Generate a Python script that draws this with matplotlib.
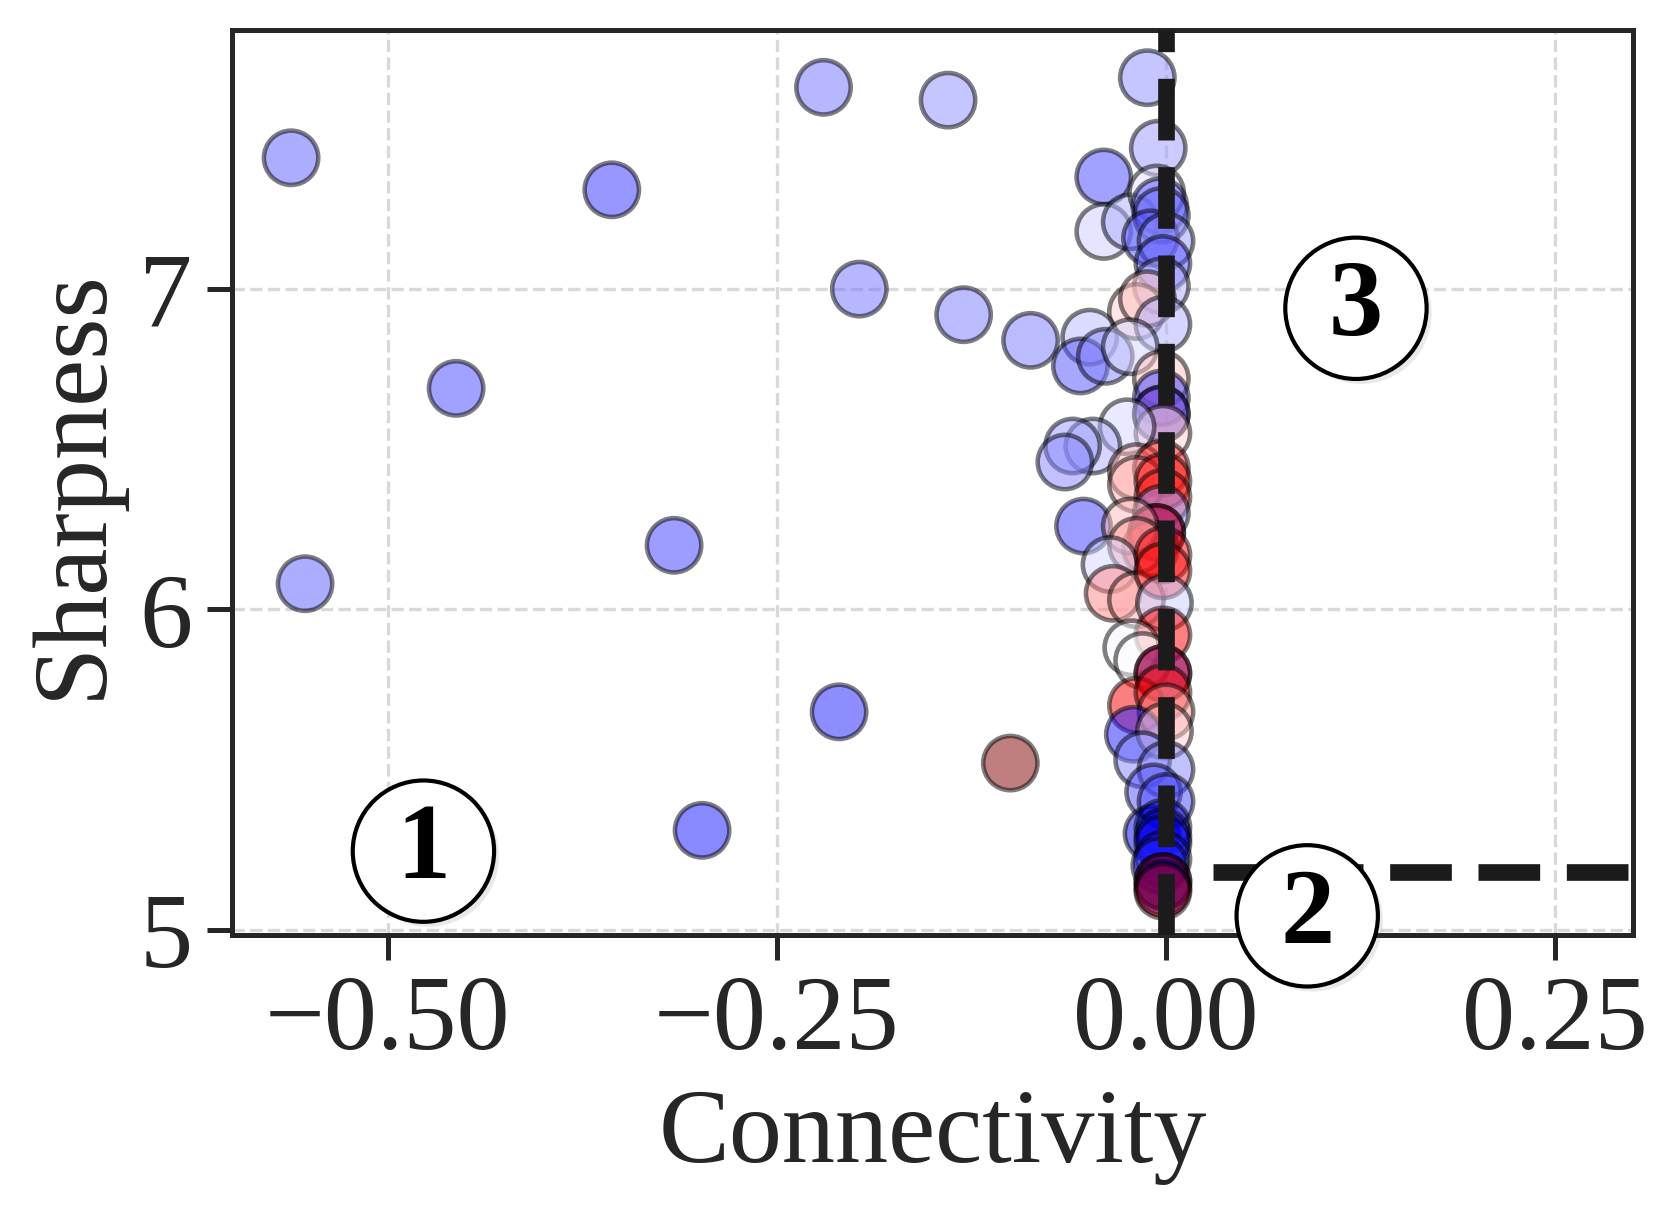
import numpy as np
import matplotlib
matplotlib.use("Agg")
import matplotlib.pyplot as plt
import matplotlib.patheffects as pe

plt.rcParams['font.family'] = ['Liberation Serif', 'DejaVu Serif']
plt.rcParams['axes.unicode_minus'] = True

# connectivity, sharpness and colour value (0 = blue .. 0.5 = white .. 1 = dark red)
conn = [-0.562, -0.553, -0.456, -0.356, -0.316, -0.298, -0.220, -0.210, -0.197,
        -0.140, -0.130, -0.100, -0.087,
        -0.012, -0.005, -0.040, -0.040, -0.023, -0.006, -0.004, -0.003, -0.010,
        0.000, -0.002, -0.003, -0.019, -0.012, -0.002, -0.049, -0.055, -0.039,
        -0.023, -0.003, -0.003, -0.003, -0.003, -0.002, -0.025, -0.047, -0.060,
        -0.065, -0.019, -0.003, -0.053, -0.019, -0.002, -0.002, -0.003, -0.006,
        -0.006, -0.010, -0.023, -0.019, -0.036, -0.034, -0.019, -0.002, -0.002,
        -0.001, -0.002, -0.022, -0.015, -0.002, -0.002, -0.019, -0.002, 0.000,
        -0.021, -0.001, -0.015, 0.000, -0.008, 0.000, -0.009, -0.002, -0.002,
        -0.002, -0.002, -0.004, -0.002, -0.002, -0.002, -0.002]
sharp = [7.41, 6.08, 6.69, 7.31, 6.20, 5.31, 7.63, 5.68, 7.00,
         7.59, 6.92, 5.52, 6.84,
         7.66, 7.44, 7.35, 7.18, 7.21, 7.30, 7.26, 7.23, 7.16,
         7.15, 7.08, 7.01, 6.93, 6.97, 6.89, 6.85, 6.76, 6.79,
         6.82, 6.72, 6.66, 6.61, 6.61, 6.55, 6.57, 6.51, 6.51,
         6.46, 6.43, 6.44, 6.26, 6.39, 6.40, 6.35, 6.30, 6.24,
         6.24, 6.19, 6.26, 6.20, 6.14, 6.05, 6.03, 6.17, 6.12,
         6.02, 5.92, 5.88, 5.84, 5.80, 5.80, 5.70, 5.74, 5.68,
         5.61, 5.62, 5.53, 5.50, 5.43, 5.40, 5.30, 5.32, 5.29,
         5.27, 5.22, 5.20, 5.15, 5.15, 5.13, 5.12]
shade = [0.34, 0.34, 0.32, 0.30, 0.31, 0.27, 0.36, 0.28, 0.36,
         0.39, 0.37, 1.00, 0.37,
         0.39, 0.40, 0.32, 0.45, 0.42, 0.47, 0.33, 0.35, 0.33,
         0.40, 0.33, 0.42, 0.55, 0.56, 0.42, 0.43, 0.33, 0.38,
         0.46, 0.56, 0.31, 0.62, 0.30, 0.55, 0.46, 0.42, 0.40,
         0.38, 0.57, 0.72, 0.31, 0.58, 0.74, 0.72, 0.40, 0.30,
         0.75, 0.75, 0.57, 0.60, 0.46, 0.62, 0.58, 0.74, 0.73,
         0.45, 0.75, 0.49, 0.50, 0.28, 0.80, 0.76, 0.74, 0.60,
         0.28, 0.55, 0.38, 0.38, 0.33, 0.32, 0.22, 0.22, 0.20,
         0.25, 0.28, 0.28, 0.22, 0.90, 0.22, 0.90]

region_x = [-0.477, 0.0907, 0.122]
region_y = [5.245, 5.043, 6.94]
region_lbl = ['1', '2', '3']

fig = plt.figure(figsize=(5.57, 4.0333), dpi=300)
ax = fig.add_axes([0.1388, 0.2264, 0.9773 - 0.1388, 0.9744 - 0.2264])

ax.grid(True, linestyle='--', color='#d9d9d9', linewidth=0.8, zorder=0)
ax.set_axisbelow(True)

ax.scatter(conn, sharp, c=shade, cmap='seismic', vmin=0, vmax=1, s=170,
           alpha=0.5, edgecolors='black', linewidths=1.1, zorder=2)

ax.axvline(0, color='#1b1b1b', linestyle='--', linewidth=4, zorder=3)
ax.axhline(5.18, xmin=0.7, xmax=1.0, color='#1b1b1b', linestyle='--', linewidth=4, zorder=3)

for rx, ry, lbl in zip(region_x, region_y, region_lbl):
    t = ax.text(rx, ry, lbl, fontsize=26, fontweight='bold', ha='center', va='center',
                zorder=5, bbox=dict(boxstyle='circle,pad=0.2', fc='white', ec='black', lw=1.0))
    t.get_bbox_patch().set_path_effects([pe.SimplePatchShadow(offset=(1.2, -1.2), alpha=0.12),
                                         pe.Normal()])

ax.set_xlim(-0.6, 0.3)
ax.set_ylim(4.983, 7.809)
ax.set_xticks([-0.5, -0.25, 0.0, 0.25])
ax.set_yticks([5, 6, 7])
ax.set_xticklabels(['\u22120.50', '\u22120.25', '0.00', '0.25'])

for sp in ax.spines.values():
    sp.set_color('#262626')
    sp.set_linewidth(1.2)
ax.tick_params(axis='both', colors='#262626', labelsize=25.5, length=6, width=1.2)
ax.set_xlabel('Connectivity', fontsize=25.5, color='#262626')
ax.set_ylabel('Sharpness', fontsize=25.5, color='#262626')

fig.savefig('out.png', dpi=300)
